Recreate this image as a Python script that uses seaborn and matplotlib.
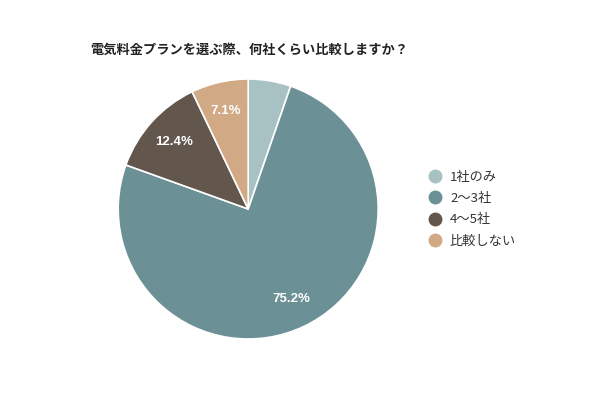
import matplotlib
matplotlib.use('Agg')
import matplotlib.pyplot as plt
import seaborn as sns
from matplotlib.lines import Line2D

sns.set_theme(style='white')
plt.rcParams['font.family'] = ['Noto Sans CJK JP', 'DejaVu Sans']

# data
labels = ['1社のみ', '2〜3社', '4〜5社', '比較しない']
shares = [5.3, 75.2, 12.4, 7.1]
colors = ['#a8c1c3', '#6b9096', '#62564d', '#d1a985']
title = '電気料金プランを選ぶ際、何社くらい比較しますか？'

fig = plt.figure(figsize=(6, 4), dpi=100)
fig.patch.set_facecolor('white')
ax = fig.add_axes([0.197, 0.1525, 0.4333, 0.65])

def fmt(p):
    # small slice gets no label
    return f'{p:.1f}%' if p > 6 else ''

wedges, texts, autotexts = ax.pie(
    shares, colors=colors, startangle=90, counterclock=False,
    autopct=fmt, pctdistance=0.77,
    wedgeprops=dict(edgecolor='white', linewidth=1.2),
    textprops=dict(color='white', fontsize=9.5, fontweight='bold',
                   family=['Liberation Sans', 'DejaVu Sans']))
ax.set_xlim(-1, 1)
ax.set_ylim(-1, 1)
ax.set_aspect('equal')

fig.text(0.15, 0.875, title, fontsize=9.5, fontweight='bold', color='#222222',
         ha='left', va='center')

handles = [Line2D([0], [0], marker='o', linestyle='', markersize=9,
                  markerfacecolor=c, markeredgecolor=c) for c in colors]
fig.legend(handles, labels, loc='center left', bbox_to_anchor=(0.695, 0.477),
           frameon=False, fontsize=9.5, labelcolor='#333333',
           handletextpad=0.1, labelspacing=0.62, borderaxespad=0)

fig.savefig('out.png', dpi=100, facecolor='white')
